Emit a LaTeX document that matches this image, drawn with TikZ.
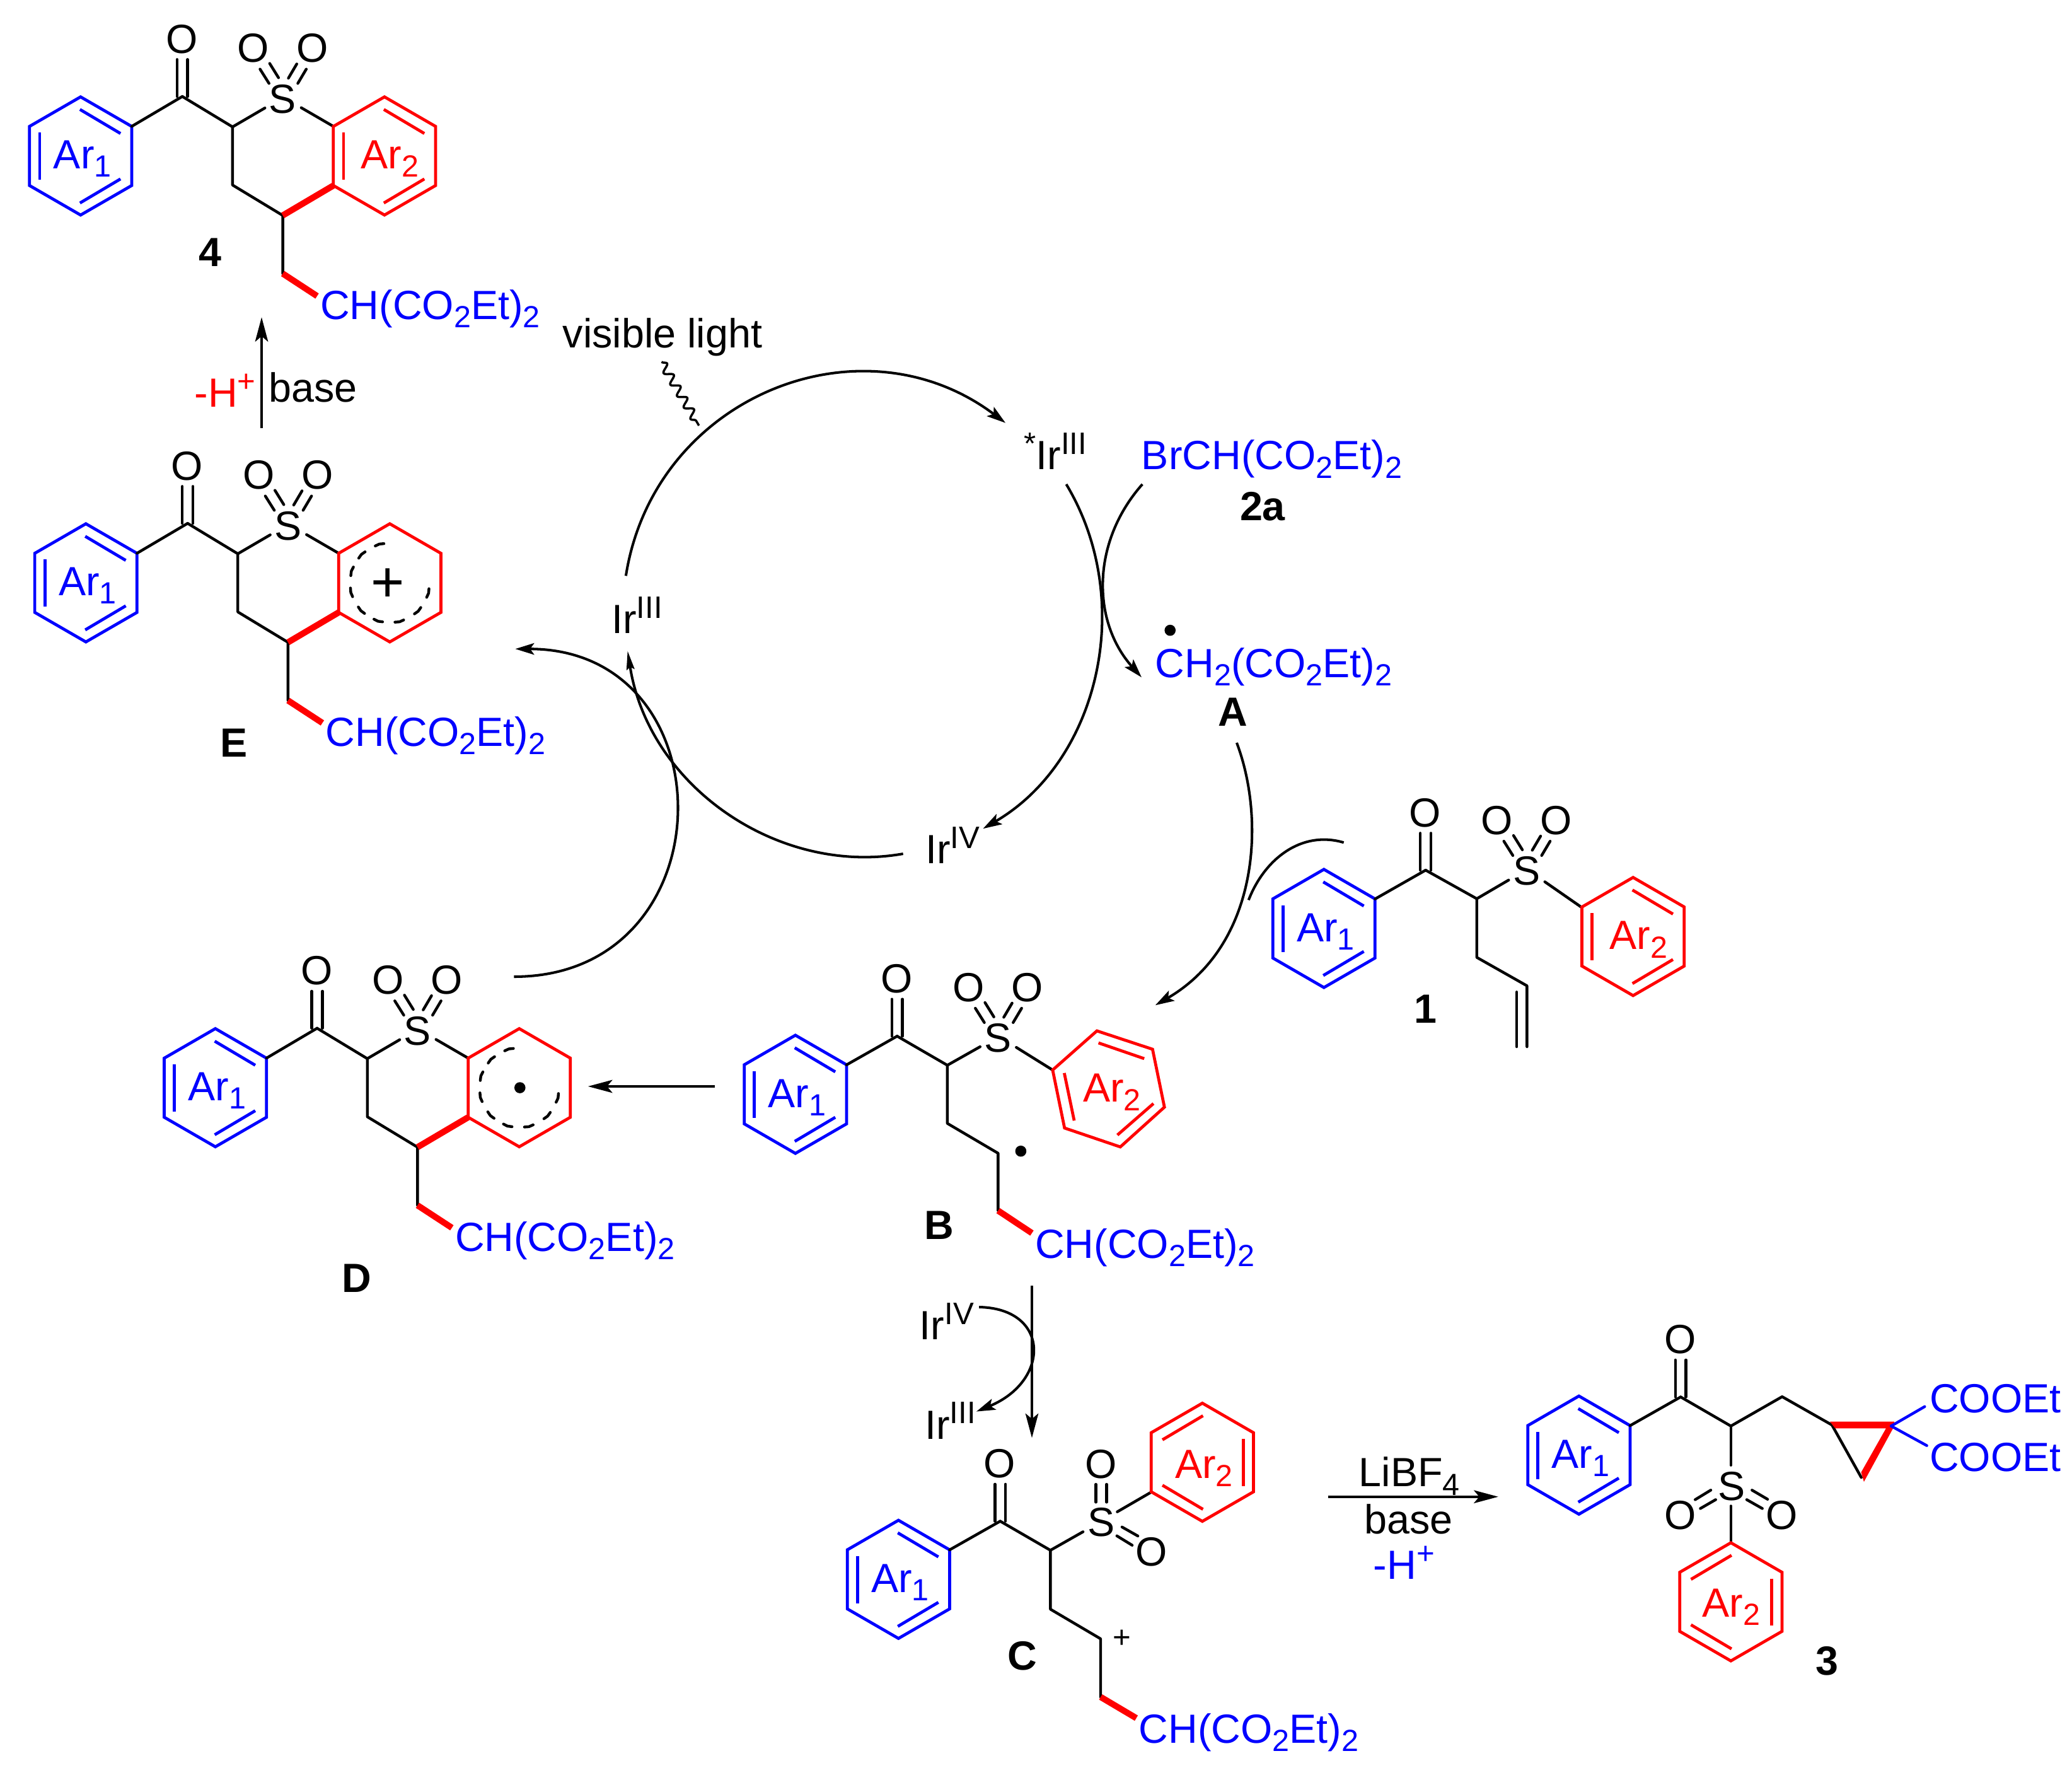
\documentclass[tikz,border=0pt]{standalone}
\usepackage{fontspec}
\setmainfont{Liberation Sans}
\usetikzlibrary{arrows.meta,decorations.pathmorphing}
\definecolor{cblue}{RGB}{0,0,255}
\definecolor{cred}{RGB}{255,0,0}
\newcommand{\Sb}[1]{\raisebox{-3.8pt}{\fontsize{13.8}{14}\selectfont #1}}
\newcommand{\Sp}[1]{\raisebox{6.9pt}{\fontsize{14}{14}\selectfont #1}}
\newcommand{\MalonateTxt}{CH(CO\Sb{2}Et)\Sb{2}}
% plain ring (no inner bonds)
\newcommand{\ChemRing}[3]{\draw[ringb,#3] (#1-38.7,#2-22.35) -- (#1,#2-44.7) -- (#1+38.7,#2-22.35) -- (#1+38.7,#2+22.35) -- (#1,#2+44.7) -- (#1-38.7,#2+22.35) -- cycle;}
% ring with inner double bonds, #4 = 1 normal, -1 mirrored
\newcommand{\ChemHex}[4]{\ChemRing{#1}{#2}{#3}
  \begin{scope}[shift={(#1,#2)},xscale=#4]
  \draw[ringb,#3] (-0.5,-35.2) -- (30.2,-17);
  \draw[ringb,#3] (-0.5,35.6) -- (30.2,17.4);
  \draw[ringb,#3] (-31,-17.6) -- (-31,18);
  \end{scope}}
% carbonyl: O above C at #1,#2
\newcommand{\ChemCO}[2]{\begin{scope}[shift={(#1,#2)}]
  \draw[bond] (-4,0) -- (-4,-28); \draw[bond] (4,0) -- (4,-28);
  \node[txt] at (-0.4,-43.5) {O};
  \end{scope}}
% sulfonyl with both O above
\newcommand{\ChemSO}[2]{\begin{scope}[shift={(#1,#2)}]
  \node[txt] at (0,0) {S};
  \node[txt] at (-22.3,-38.6) {O};
  \node[txt] at (22.3,-38.6) {O};
  \draw[bond] (-17.2,-22.7) -- (-10.4,-11.9);
  \draw[bond] (-9.9,-27) -- (-3.2,-16.2);
  \draw[bond] (10.6,-26.6) -- (4.3,-15.9);
  \draw[bond] (17.8,-22.7) -- (11.4,-11.9);
  \end{scope}}
% delocalised dashes
\newcommand{\ChemDash}[2]{\begin{scope}[shift={(#1,#2)}]
  \foreach \a in {15,45,76,107,136,166,197,225,255}
    \draw[bond] ({\a-6.5}:30) -- (\a:30.4) -- ({\a+6.5}:30);
  \end{scope}}
% tricyclic skeleton in the coordinates of compound 4
\newcommand{\ChemCore}{
  \ChemHex{61}{118}{cblue}{1}
  \node[base txt,text=cblue] at (41,126.3) {Ar\Sb{1}};
  \draw[bond] (99.7,95.6) -- (138,73);
  \ChemCO{138}{73}
  \draw[bond] (138,73) -- (176,96) -- (200.5,81.7);
  \ChemSO{214}{75}
  \draw[bond] (228,81.5) -- (252.3,95.6);
  \draw[bond] (176,96) -- (176,140) -- (214,163) -- (214,207);
  \draw[thick bond] (214,163) -- (252.3,140.4);
  \draw[thick bond] (214,207) -- (240,224);
  \node[base txt,text=cblue] at (243,240.3) {\MalonateTxt};
}
\tikzset{
  bond/.style={line width=1.25pt,line cap=round,line join=round,black},
  ringb/.style={line width=1.35pt,line cap=butt,line join=miter},
  thick bond/.style={line width=2.8pt,cred,line cap=butt},
  txt/.style={inner sep=0pt,font=\fontsize{18.4}{20}\selectfont},
  base txt/.style={txt,anchor=base west,xshift=-0.5pt,yshift=-0.8pt},
  bold label/.style={inner sep=0pt,font=\fontsize{18.4}{20}\selectfont\bfseries},
  arr/.style={line width=1.15pt,-{Stealth[length=8.5pt,width=5.2pt,inset=1.8pt]}},
  arc line/.style={line width=1.15pt},
  straight arr/.style={line width=1.25pt,-{Stealth[length=11pt,width=5.8pt,inset=2.4pt]}},
}
\begin{document}
\begin{tikzpicture}[x=0.02096cm,y=-0.02096cm]
\fill[white] (0,0) rectangle (1568.2,1337.3);
\useasboundingbox (0,0) rectangle (1568.2,1337.3);

%% compound 4
\begin{scope}
\ChemCore
\ChemHex{291}{118}{cred}{1}
\node[base txt,text=cred] at (273.7,126.3) {Ar\Sb{2}};
\end{scope}
\node[bold label] (L4) at (159,191) {4};

%% compound E
\begin{scope}[shift={(4,323)}]
\ChemCore
\ChemRing{291}{118}{cred}
\ChemDash{291}{118}
\node[inner sep=0pt,font=\fontsize{26}{26}\selectfont] at (289.5,120) {+};
\end{scope}
\node[bold label] (LE) at (177,562) {E};

%% compound D
\begin{scope}[shift={(102,705)}]
\ChemCore
\ChemRing{291}{118}{cred}
\ChemDash{291}{118}
\fill (291.5,118) circle (4.2);
\end{scope}
\node[bold label] (LD) at (270,967) {D};

%% compound 1
\ChemHex{1002}{702.5}{cblue}{1}
\node[base txt,text=cblue] at (982,711) {Ar\Sb{1}};
\draw[bond] (1040.7,680.2) -- (1079,658.4);
\ChemCO{1079}{658.4}
\draw[bond] (1079,658.4) -- (1117.7,680) -- (1141.8,665.9);
\ChemSO{1155.4}{659.2}
\draw[bond] (1169.2,667.2) -- (1196.7,686.3);
\ChemHex{1236}{708.6}{cred}{1}
\node[base txt,text=cred] at (1218.7,717) {Ar\Sb{2}};
\draw[bond] (1117.7,680) -- (1117.7,724.4) -- (1155.7,745.9) -- (1155.7,792);
\draw[bond] (1147.9,750.6) -- (1147.9,792);
\node[bold label] (L1) at (1079,763.4) {1};

%% compound B
\ChemHex{602}{828}{cblue}{1}
\node[base txt,text=cblue] at (582,836.5) {Ar\Sb{1}};
\draw[bond] (640.7,805.7) -- (679,784);
\ChemCO{679}{784}
\draw[bond] (679,784) -- (717,806) -- (741.8,792);
\ChemSO{755.4}{785.6}
\draw[bond] (769.2,792.5) -- (796.5,809.5);
\draw[ringb,cred] (830.2,780) -- (872.3,793.9) -- (881.3,837.7) -- (847.9,867.8) -- (805.7,853.5) -- (796.7,809.6) -- cycle;
\draw[ringb,cred] (831.4,789.1) -- (866,801);
\draw[ringb,cred] (873,835) -- (845.7,858.8);
\draw[ringb,cred] (805.5,811.9) -- (813,847.9);
\node[base txt,text=cred] at (820.3,832.5) {Ar\Sb{2}};
\draw[bond] (717,806) -- (717,850) -- (755.4,872.6) -- (755.4,916);
\draw[thick bond] (755.4,916) -- (781,933);
\fill (772.6,871) circle (4.2);
\node[base txt,text=cblue] at (784,950.5) {\MalonateTxt};
\node[bold label] (LB) at (711,927) {B};

%% compound C
\ChemHex{680}{1195}{cblue}{1}
\node[base txt,text=cblue] at (660,1203.5) {Ar\Sb{1}};
\draw[bond] (718.7,1172.7) -- (757,1151);
\ChemCO{757}{1151}
\draw[bond] (757,1151) -- (795,1173) -- (819.7,1159);
\node[txt] at (833.3,1152) {S};
\node[txt] at (833.3,1107.7) {O};
\node[txt] at (871.5,1174.2) {O};
\draw[bond] (829.5,1123.1) -- (829.5,1136.6);
\draw[bond] (837.5,1123.1) -- (837.5,1136.6);
\draw[bond] (849.2,1155.4) -- (861.2,1162.2);
\draw[bond] (845.3,1162.1) -- (856.9,1169.2);
\draw[bond] (845.6,1143.9) -- (871.3,1129);
\ChemHex{910}{1106.4}{cred}{-1}
\node[base txt,text=cred] at (889.8,1117) {Ar\Sb{2}};
\draw[bond] (795,1173) -- (795,1217.6) -- (833,1240) -- (833,1284);
\draw[thick bond] (833,1284) -- (860,1300);
\node[inner sep=0pt,font=\fontsize{14}{14}\selectfont] (Cplus) at (849,1240) {+};
\node[base txt,text=cblue] at (862.5,1317.5) {\MalonateTxt};
\node[bold label] (LC) at (773.8,1252.8) {C};

%% compound 3
\ChemHex{1195}{1101}{cblue}{1}
\node[base txt,text=cblue] at (1175,1109.5) {Ar\Sb{1}};
\draw[bond] (1233.7,1078.7) -- (1272,1057);
\ChemCO{1272}{1057}
\draw[bond] (1272,1057) -- (1310,1079) -- (1348.8,1056.8) -- (1386.5,1078.2) -- (1408.7,1117.9);
\draw[bond] (1310,1079) -- (1310,1108.6);
\node[txt] at (1310.5,1124.4) {S};
\node[txt] at (1271.8,1146.6) {O};
\node[txt] at (1348.6,1146.6) {O};
\draw[bond] (1283,1134.7) -- (1294.8,1127.5);
\draw[bond] (1286.9,1141.4) -- (1298.5,1134.7);
\draw[bond] (1326,1127.5) -- (1337.8,1134.4);
\draw[bond] (1322,1134.7) -- (1333.8,1141.4);
\draw[bond] (1310,1139.5) -- (1310,1166.8);
\ChemHex{1310}{1212}{cred}{-1}
\node[base txt,text=cred] at (1289,1222) {Ar\Sb{2}};
\fill[cred] (1385,1075.7) -- (1433.7,1075.7) -- (1433.7,1079) -- (1410.7,1121.2) -- (1408.6,1114) -- (1427.4,1080.8) -- (1389,1080.8) -- cycle;
\draw[bond,cblue] (1431.3,1079) -- (1456.7,1064.3);
\draw[bond,cblue] (1431.3,1079) -- (1458.3,1093.8);
\node[base txt,text=cblue] (eA) at (1461,1067.8) {COOEt};
\node[base txt,text=cblue] (eB) at (1461,1112) {COOEt};
\node[bold label] (L3) at (1383,1256.7) {3};

%% labels on the cycle
\node[base txt] (vis) at (426.5,262) {visible light};
\node[base txt] (IrA) at (463.5,478) {Ir\Sp{III}};
\node[base txt] (IrS) at (775.5,354) {\Sp{*}Ir\Sp{III}};
\node[base txt] (IrB) at (701,652) {Ir\Sp{IV}};
\node[base txt,text=cblue] (Br) at (864.5,354) {BrCH(CO\Sb{2}Et)\Sb{2}};
\node[bold label] (L2a) at (955.6,383) {2a};
\node[base txt,text=cblue] (rad) at (875,511.3) {CH\Sb{2}(CO\Sb{2}Et)\Sb{2}};
\fill (885.6,476.9) circle (4.2);
\node[bold label] (LA) at (933,538.8) {A};
\node[base txt,text=cred] (mH) at (147.8,306.7) {-H\Sp{+}};
\node[base txt] (bs) at (204,302.7) {base};
\node[base txt] (IrC) at (696.5,1012.3) {Ir\Sp{IV}};
\node[base txt] (IrD) at (700.5,1087.4) {Ir\Sp{III}};
\node[base txt] (li) at (1029,1123.5) {LiBF\Sb{4}};
\node[base txt] (bs2) at (1033,1159) {base};
\node[base txt,text=cblue] (mH2) at (1040,1193.6) {-H\Sp{+}};

%% connectors
\coordinate (a1) at (473.7,435.7); \coordinate (a2) at (761,320);
\draw[arr] (a1) .. controls (495,300) and (651.6,237.5) .. (a2);
\coordinate (b1) at (807,366.4); \coordinate (b2) at (744,627);
\draw[arr] (b1) .. controls (860,454.6) and (832,575.8) .. (b2);
\coordinate (c1) at (683.5,646); \coordinate (c2) at (475,492.5);
\draw[line width=1.15pt,-{Stealth[length=8.5pt,width=3.6pt,inset=1.2pt]}] (c1) .. controls (589,662.7) and (491,595) .. (c2);
\coordinate (d1) at (389,739); \coordinate (d2) at (390,491);
\draw[arr] (d1) .. controls (552,739) and (553,491) .. (d2);
\coordinate (e1) at (864.6,366.4); \coordinate (e2) at (864,512.5);
\draw[arr] (e1) .. controls (826,410) and (826,470) .. (e2);
\coordinate (f1) at (936,562); \coordinate (f2) at (874.4,760.6);
\draw[arr] (f1) .. controls (958,620) and (953,715) .. (f2);
\coordinate (g1) at (1017,637.5); \coordinate (g2) at (945,681);
\draw[arc line] (g1) .. controls (985,628) and (957,650) .. (g2);
\coordinate (h1) at (741,989); \coordinate (h2) at (739,1068);
\draw[arr] (h1) .. controls (795,990) and (795,1045) .. (h2);
\coordinate (w1) at (500.7,273.8); \coordinate (w2) at (529,322);
\draw[line width=1pt,decorate,decoration={snake,segment length=6pt,amplitude=1.8pt}] (w1) -- (w2);
\coordinate (i1) at (198,324); \coordinate (i2) at (198,240);
\draw[straight arr] (i1) -- (i2);
\coordinate (j1) at (541,822); \coordinate (j2) at (445,822);
\draw[straight arr] (j1) -- (j2);
\coordinate (k1) at (781,973); \coordinate (k2) at (781,1088);
\draw[straight arr] (k1) -- (k2);
\coordinate (l1) at (1005,1132.5); \coordinate (l2) at (1134,1132.5);
\draw[straight arr] (l1) -- (l2);
\end{tikzpicture}
\end{document}
